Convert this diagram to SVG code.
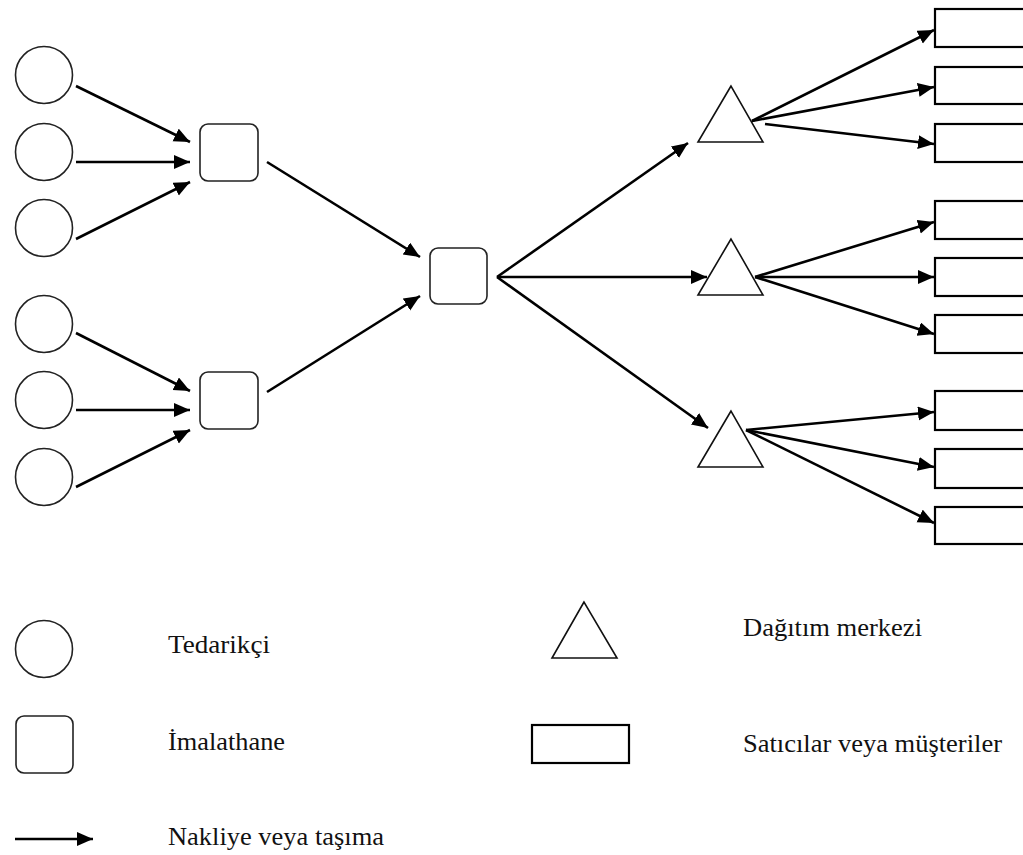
<svg xmlns="http://www.w3.org/2000/svg" width="1023" height="855" viewBox="0 0 1023 855">
<style>
.sup{fill:#fff;stroke:#222;stroke-width:1.6}
.plant{fill:#fff;stroke:#222;stroke-width:1.6}
.dc{fill:#fff;stroke:#111;stroke-width:1.6;stroke-linejoin:miter}
.cust{fill:#fff;stroke:#000;stroke-width:2.2}
.arr{stroke:#000;stroke-width:2.6;fill:none;marker-end:url(#ah)}
text{font-family:"Times New Roman","Liberation Serif","DejaVu Serif",serif;font-size:26px;fill:#111}
</style>
<defs>
<marker id="ah" markerUnits="userSpaceOnUse" markerWidth="18" markerHeight="16" refX="16" refY="7" orient="auto">
<path d="M0,0 L16,7 L0,14 z" fill="#000"/>
</marker>
</defs>
<rect width="1023" height="855" fill="#fff"/>
<g id="suppliers">
<circle id="s1" class="sup" cx="44" cy="75" r="28.5"/>
<circle id="s2" class="sup" cx="44" cy="152" r="28.5"/>
<circle id="s3" class="sup" cx="44" cy="228" r="28.5"/>
<circle id="s4" class="sup" cx="44" cy="324" r="28.5"/>
<circle id="s5" class="sup" cx="44" cy="400" r="28.5"/>
<circle id="s6" class="sup" cx="44" cy="477" r="28.5"/>
</g>
<g id="plants">
<rect id="p1" class="plant" x="200" y="124" width="58" height="57" rx="8"/>
<rect id="p2" class="plant" x="200" y="372" width="58" height="57" rx="8"/>
<rect id="p3" class="plant" x="430" y="248" width="57" height="56" rx="8"/>
</g>
<g id="dcs">
<polygon id="d1" class="dc" points="731,86 698,142 763,142"/>
<polygon id="d2" class="dc" points="731,239 698,295 763,295"/>
<polygon id="d3" class="dc" points="731,411 698,467 763,467"/>
</g>
<g id="customers">
<rect id="c1" class="cust" x="935" y="9" width="100" height="38"/>
<rect id="c2" class="cust" x="935" y="67" width="100" height="37"/>
<rect id="c3" class="cust" x="935" y="124" width="100" height="38"/>
<rect id="c4" class="cust" x="935" y="201" width="100" height="38"/>
<rect id="c5" class="cust" x="935" y="258" width="100" height="38"/>
<rect id="c6" class="cust" x="935" y="315" width="100" height="38"/>
<rect id="c7" class="cust" x="935" y="391" width="100" height="39"/>
<rect id="c8" class="cust" x="935" y="449" width="100" height="39"/>
<rect id="c9" class="cust" x="935" y="507" width="100" height="37"/>
</g>
<g id="connectors">
<line class="arr" x1="76" y1="86" x2="190" y2="142"/>
<line class="arr" x1="76" y1="162" x2="190" y2="162"/>
<line class="arr" x1="76" y1="239" x2="190" y2="182"/>
<line class="arr" x1="76" y1="333" x2="190" y2="391"/>
<line class="arr" x1="76" y1="410" x2="190" y2="410"/>
<line class="arr" x1="76" y1="487" x2="190" y2="430"/>
<line class="arr" x1="267" y1="162" x2="420" y2="257"/>
<line class="arr" x1="267" y1="392" x2="420" y2="296"/>
<line class="arr" x1="497" y1="277" x2="688" y2="143"/>
<line class="arr" x1="497" y1="277" x2="707" y2="277"/>
<line class="arr" x1="497" y1="277" x2="708" y2="428"/>
<line class="arr" x1="752" y1="121" x2="934" y2="30"/>
<line class="arr" x1="752" y1="121" x2="934" y2="87"/>
<line class="arr" x1="765" y1="124" x2="934" y2="144"/>
<line class="arr" x1="755" y1="277" x2="934" y2="222"/>
<line class="arr" x1="755" y1="277" x2="934" y2="277"/>
<line class="arr" x1="755" y1="277" x2="934" y2="334"/>
<line class="arr" x1="746" y1="430" x2="934" y2="412"/>
<line class="arr" x1="746" y1="430" x2="934" y2="467"/>
<line class="arr" x1="746" y1="430" x2="934" y2="523"/>
</g>
<g id="legend">
<circle class="sup" cx="44" cy="649" r="28.5"/>
<rect class="plant" x="16" y="716" width="57" height="57" rx="8"/>
<line class="arr" x1="15" y1="839" x2="93" y2="839"/>
<polygon class="dc" points="584,602 552,658 617,658"/>
<rect class="cust" x="532" y="725" width="97" height="38"/>
<text x="168" y="653" textLength="102" lengthAdjust="spacingAndGlyphs">Tedarikçi</text>
<text x="168" y="750" textLength="117" lengthAdjust="spacingAndGlyphs">İmalathane</text>
<text x="168" y="845" textLength="216" lengthAdjust="spacingAndGlyphs">Nakliye veya taşıma</text>
<text x="743" y="636" textLength="179" lengthAdjust="spacingAndGlyphs">Dağıtım merkezi</text>
<text x="743" y="752" textLength="259" lengthAdjust="spacingAndGlyphs">Satıcılar veya müşteriler</text>
</g>
</svg>
